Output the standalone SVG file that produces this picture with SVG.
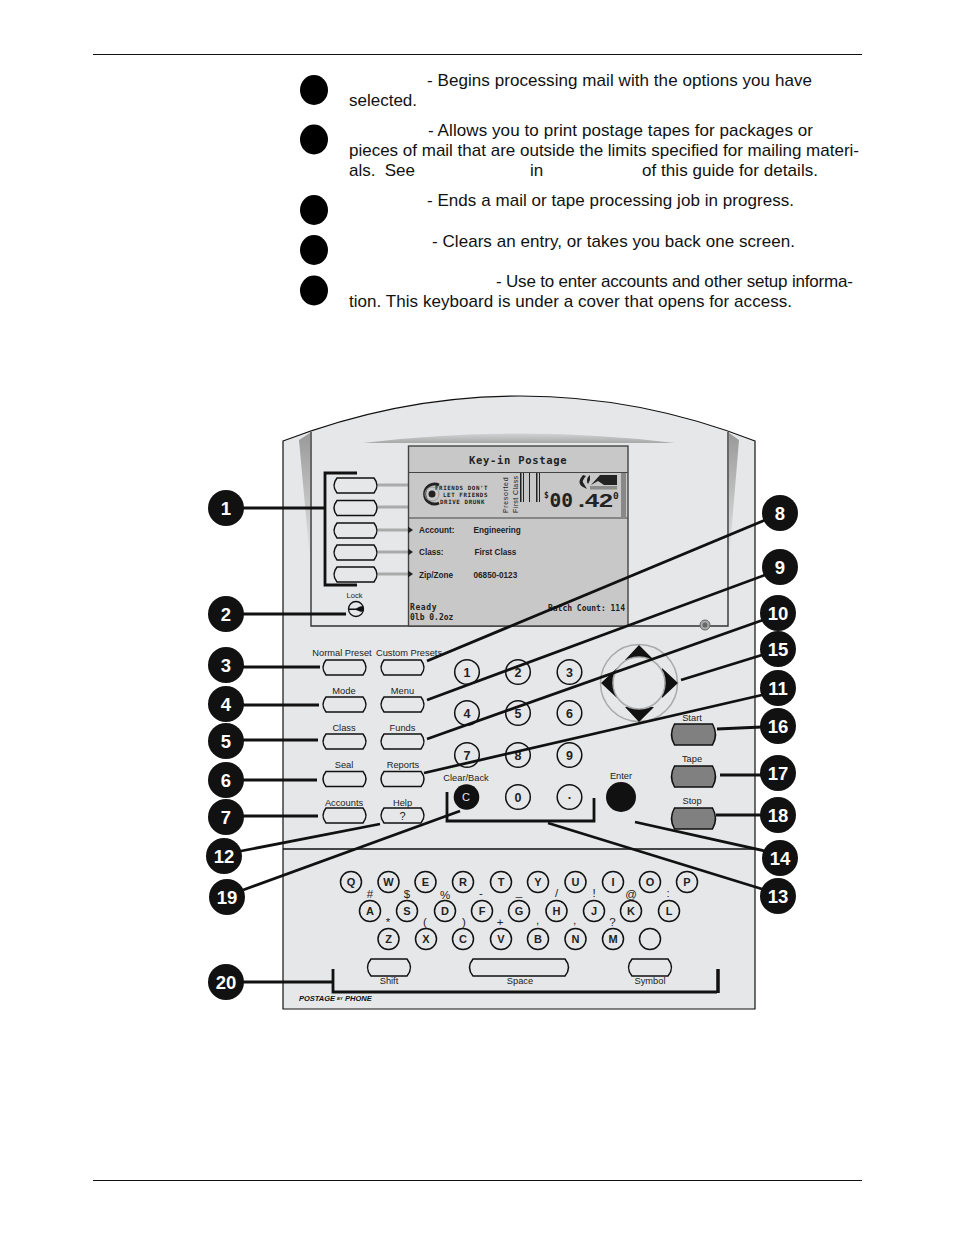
<svg xmlns="http://www.w3.org/2000/svg" xmlns:xlink="http://www.w3.org/1999/xlink" width="954" height="1235" viewBox="0 0 954 1235">
<style>
text{font-family:"Liberation Sans",Arial,sans-serif;fill:#111}
.b{font-size:17px}
.l{font-size:9.300px;text-anchor:middle;fill:#222}
.y{font-size:11.500px;text-anchor:middle;fill:#222}
.n text{font-size:18.500px;font-weight:bold;fill:#fff;text-anchor:middle}
.n circle{fill:#111}
.k{fill:#e6e7e8;stroke:#111;stroke-width:1.500}
.g{fill:#808080;stroke:#111;stroke-width:1.500}
.d{font-size:12.500px;font-weight:bold;text-anchor:middle;fill:#222}
.q{fill:#e6e7e8;stroke:#111;stroke-width:1.500}
.s{font-size:11px;font-weight:bold;text-anchor:middle;fill:#222}
.m{font-family:"DejaVu Sans Mono",monospace;font-weight:bold;fill:#222}
.f{font-size:8.200px;font-weight:bold;fill:#222}
.c line,.c path{stroke:#111;stroke-width:2.800;fill:none}
.h{stroke:#aaa;stroke-width:3}
</style>
<defs>
<path id="btn" d="M4,0H41Q47,7.500 41,15H4Q-2,7.500 4,0Z"/>
<path id="tbtn" d="M4,0H42Q48,10.500 42,21H4Q-2,10.500 4,0Z"/>
<circle id="key" r="12.300"/>
<circle id="qk" r="10.500"/>
<linearGradient id="w" x1="0" y1="0" x2="0" y2="1"><stop offset="0" stop-color="#999"/><stop offset="1" stop-color="#e6e7e8"/></linearGradient>
<linearGradient id="top" x1="0" y1="0" x2="0" y2="1"><stop offset="0" stop-color="#d2d3d4"/><stop offset="1" stop-color="#a8a8a8"/></linearGradient>
</defs>
<rect width="954" height="1235" fill="#fff"/>
<g id="rules" stroke="#111" stroke-width="1"><line x1="93" y1="54.500" x2="862" y2="54.500"/><line x1="93" y1="1180.500" x2="862" y2="1180.500"/></g>
<g id="description">
<g fill="#000"><ellipse cx="314" cy="90" rx="14" ry="15"/><ellipse cx="314" cy="139.500" rx="14" ry="15"/><ellipse cx="314" cy="210" rx="14" ry="15"/><ellipse cx="314" cy="250" rx="14" ry="15"/><ellipse cx="314" cy="290.500" rx="14" ry="15"/></g>
<text class="b" x="427" y="86" textLength="385">- Begins processing mail with the options you have</text>
<text class="b" x="349" y="106">selected.</text>
<text class="b" x="428" y="136" textLength="385">- Allows you to print postage tapes for packages or</text>
<text class="b" x="349" y="156" textLength="510">pieces of mail that are outside the limits specified for mailing materi-</text>
<text class="b" x="349" y="176" textLength="66" xml:space="preserve">als.  See</text>
<text class="b" x="530" y="176">in</text>
<text class="b" x="642" y="176" textLength="176">of this guide for details.</text>
<text class="b" x="427" y="206" textLength="367">- Ends a mail or tape processing job in progress.</text>
<text class="b" x="432" y="247" textLength="363">- Clears an entry, or takes you back one screen.</text>
<text class="b" x="496" y="287" textLength="357">- Use to enter accounts and other setup informa-</text>
<text class="b" x="349" y="307" textLength="443">tion. This keyboard is under a cover that opens for access.</text>
</g>
<g id="device">
<path d="M283,441Q400,396 520,396Q640,396 755,441V1009H283Z" fill="#e6e7e8" stroke="#111" stroke-width="1.200"/>
<path d="M311,432V626H728V432" fill="none" stroke="#333" stroke-width="1.400"/>
<path d="M299,440L310,433V560Z" fill="url(#w)"/>
<path d="M739,440L729,433V560Z" fill="url(#w)"/>
<path d="M363,443Q520,424 675,443Z" fill="url(#top)"/>
<line x1="283" y1="849" x2="755" y2="849" stroke="#111" stroke-width="1.600"/>
<circle cx="705" cy="625" r="5" fill="#aaa" stroke="#666"/><circle cx="705" cy="625" r="2.500" fill="#666"/>
</g>
<g id="softkeys">
<g class="h"><line x1="378" y1="485" x2="408" y2="485"/><line x1="378" y1="507" x2="408" y2="507"/><line x1="378" y1="530" x2="408" y2="530"/><line x1="378" y1="552" x2="408" y2="552"/><line x1="378" y1="574" x2="408" y2="574"/></g>
<use href="#btn" class="k" x="333" y="478"/><use href="#btn" class="k" x="333" y="500.500"/><use href="#btn" class="k" x="333" y="523"/><use href="#btn" class="k" x="333" y="545"/><use href="#btn" class="k" x="333" y="567"/>
</g>
<g id="screen">
<rect x="408.500" y="446" width="219.500" height="180" fill="#c8c8c8" stroke="#444" stroke-width="1.400"/>
<line x1="408" y1="472.500" x2="628" y2="472.500" stroke="#444"/>
<line x1="408" y1="518" x2="628" y2="518" stroke="#444"/>
<rect x="621" y="473" width="5" height="45" fill="#888"/>
<text class="m" x="469" y="464" font-size="10.500" letter-spacing=".7">Key-in Postage</text>
<path d="M439,485A10,10 0 1 0 439,503" fill="none" stroke="#222" stroke-width="3"/>
<circle cx="432" cy="494" r="7" fill="none" stroke="#999" stroke-width="1"/>
<circle cx="432" cy="494" r="3.500" fill="#222"/>
<text class="m" x="435" y="490" font-size="5.800" letter-spacing=".6">FRIENDS DON'T</text>
<text class="m" x="443" y="497" font-size="5.800" letter-spacing=".6">LET FRIENDS</text>
<text class="m" x="440" y="503.500" font-size="5.800" letter-spacing=".6">DRIVE DRUNK</text>
<text transform="translate(507.500,513) rotate(-90)" font-size="7" letter-spacing=".65" style="fill:#222">Presorted</text>
<text transform="translate(517.500,513) rotate(-90)" font-size="7" letter-spacing=".4" style="fill:#222">First Class</text>
<g fill="#222"><rect x="520" y="473" width="1.500" height="29"/><rect x="523" y="473" width="1" height="29"/><rect x="529" y="473" width="1" height="29"/><rect x="536" y="473" width="1.500" height="29"/><rect x="539" y="473" width="1" height="29"/></g>
<text class="m" x="544" y="498" font-size="8">$</text>
<text class="m" x="549.500" y="507" font-size="19.500">00</text>
<text x="578" y="507" font-size="19" font-weight="bold" textLength="35" lengthAdjust="spacingAndGlyphs" style="fill:#222">.42</text>
<text class="m" x="613" y="499" font-size="9.500">0</text>
<path d="M591,485L600,475H617V485H604L598,481Z" fill="#222"/>
<path d="M583,475Q576,483 583,487L587,489L584,484Q581,481 586,476ZM590,475Q585,479 588,484L590,480Z" fill="#222"/>
<rect x="590" y="486" width="27" height="3.500" fill="#8c8c8c"/>
<g fill="#222"><path d="M408,526.500L413,530L408,533.500Z"/><path d="M408,548.500L413,552L408,555.500Z"/><path d="M408,570.500L413,574L408,577.500Z"/></g>
<text class="f" x="419" y="533">Account:</text><text class="f" x="473.500" y="533">Engineering</text>
<text class="f" x="419" y="555">Class:</text><text class="f" x="474.500" y="555">First Class</text>
<text class="f" x="419" y="578">Zip/Zone</text><text class="f" x="473.500" y="578">06850-0123</text>
<text class="m" x="410" y="610" font-size="8" letter-spacing=".6">Ready</text>
<text class="m" x="410" y="619.500" font-size="8">0lb 0.2oz</text>
<text class="m" x="625" y="611" font-size="8" text-anchor="end">Batch Count: 114</text>
</g>
<g id="lock"><text class="l" x="354.500" y="598" style="font-size:7.500px">Lock</text><circle cx="356" cy="609" r="7.500" fill="#e6e7e8" stroke="#111" stroke-width="1.300"/><path d="M349,608.500H356L360,606.500A2.800,2.800 0 1 1 360,611.500L356,610H349Z" fill="#111"/></g>
<g id="function-keys">
<text class="l" x="342" y="656">Normal Preset</text><use href="#btn" class="k" x="322" y="660"/>
<text class="l" x="409" y="656">Custom Presets</text><use href="#btn" class="k" x="380" y="660"/>
<text class="l" x="344" y="694">Mode</text><use href="#btn" class="k" x="322" y="697"/>
<text class="l" x="402.500" y="694">Menu</text><use href="#btn" class="k" x="380" y="697"/>
<text class="l" x="344" y="731">Class</text><use href="#btn" class="k" x="322" y="734"/>
<text class="l" x="402.500" y="731">Funds</text><use href="#btn" class="k" x="380" y="734"/>
<text class="l" x="344" y="768">Seal</text><use href="#btn" class="k" x="322" y="771.500"/>
<text class="l" x="403" y="768">Reports</text><use href="#btn" class="k" x="380" y="771.500"/>
<text class="l" x="344" y="806">Accounts</text><use href="#btn" class="k" x="322" y="808"/>
<text class="l" x="402.500" y="806">Help</text><use href="#btn" class="k" x="380" y="808"/>
<text class="l" x="402.500" y="820" style="font-size:11px">?</text>
</g>
<g id="numeric-keys">
<g class="k"><use href="#key" x="467" y="672"/><use href="#key" x="518" y="672"/><use href="#key" x="569.500" y="672"/><use href="#key" x="467" y="713"/><use href="#key" x="518" y="713"/><use href="#key" x="569.500" y="713"/><use href="#key" x="467" y="755"/><use href="#key" x="518" y="755"/><use href="#key" x="569.500" y="755"/><use href="#key" x="518" y="797"/><use href="#key" x="569.500" y="797"/></g>
<g><text class="d" x="467" y="676.500">1</text><text class="d" x="518" y="676.500">2</text><text class="d" x="569.500" y="676.500">3</text><text class="d" x="467" y="717.500">4</text><text class="d" x="518" y="717.500">5</text><text class="d" x="569.500" y="717.500">6</text><text class="d" x="467" y="759.500">7</text><text class="d" x="518" y="759.500">8</text><text class="d" x="569.500" y="759.500">9</text><text class="d" x="518" y="801.500">0</text><text class="d" x="569.500" y="799">.</text></g>
<text class="l" x="466" y="781">Clear/Back</text>
<circle cx="466.500" cy="797" r="12.800" fill="#111"/><text x="466" y="801" font-size="11" text-anchor="middle" style="fill:#e6e7e8">C</text>
<text class="l" x="621" y="779">Enter</text><circle cx="621" cy="797" r="15" fill="#111"/>
</g>
<g id="dpad">
<circle cx="639" cy="683" r="38.500" fill="#e6e7e8" stroke="#aaa" stroke-width="1.500"/>
<path d="M639,645L654,660H625ZM639,722L625,707H654ZM601,683L617,668V698ZM678,683L662,668V698Z" fill="#111"/>
<circle cx="639" cy="683" r="26" fill="#e6e7e8" stroke="#aaa" stroke-width="1.500"/>
</g>
<g id="action-keys">
<text class="l" x="692" y="721">Start</text><use href="#tbtn" class="g" x="670.500" y="724"/>
<text class="l" x="692" y="762">Tape</text><use href="#tbtn" class="g" x="670.500" y="766"/>
<text class="l" x="692" y="804">Stop</text><use href="#tbtn" class="g" x="670.500" y="808"/>
</g>
<g id="keyboard">
<g class="q"><use href="#qk" x="351" y="882"/><use href="#qk" x="388.500" y="882"/><use href="#qk" x="425.500" y="882"/><use href="#qk" x="463" y="882"/><use href="#qk" x="501" y="882"/><use href="#qk" x="538" y="882"/><use href="#qk" x="575.500" y="882"/><use href="#qk" x="613" y="882"/><use href="#qk" x="650" y="882"/><use href="#qk" x="687" y="882"/>
<use href="#qk" x="370" y="911"/><use href="#qk" x="407" y="911"/><use href="#qk" x="445" y="911"/><use href="#qk" x="482" y="911"/><use href="#qk" x="519" y="911"/><use href="#qk" x="556.500" y="911"/><use href="#qk" x="594" y="911"/><use href="#qk" x="631" y="911"/><use href="#qk" x="669" y="911"/>
<use href="#qk" x="388.500" y="939"/><use href="#qk" x="426" y="939"/><use href="#qk" x="463" y="939"/><use href="#qk" x="501" y="939"/><use href="#qk" x="538" y="939"/><use href="#qk" x="575.500" y="939"/><use href="#qk" x="613" y="939"/><use href="#qk" x="650" y="939"/></g>
<g><text class="s" x="351" y="886">Q</text><text class="s" x="388.500" y="886">W</text><text class="s" x="425.500" y="886">E</text><text class="s" x="463" y="886">R</text><text class="s" x="501" y="886">T</text><text class="s" x="538" y="886">Y</text><text class="s" x="575.500" y="886">U</text><text class="s" x="613" y="886">I</text><text class="s" x="650" y="886">O</text><text class="s" x="687" y="886">P</text>
<text class="s" x="370" y="915">A</text><text class="s" x="407" y="915">S</text><text class="s" x="445" y="915">D</text><text class="s" x="482" y="915">F</text><text class="s" x="519" y="915">G</text><text class="s" x="556.500" y="915">H</text><text class="s" x="594" y="915">J</text><text class="s" x="631" y="915">K</text><text class="s" x="669" y="915">L</text>
<text class="s" x="388.500" y="943">Z</text><text class="s" x="426" y="943">X</text><text class="s" x="463" y="943">C</text><text class="s" x="501" y="943">V</text><text class="s" x="538" y="943">B</text><text class="s" x="575.500" y="943">N</text><text class="s" x="613" y="943">M</text></g>
<g><text class="y" x="370" y="898">#</text><text class="y" x="407" y="898">$</text><text class="y" x="445" y="899">%</text><text class="y" x="481" y="897">-</text><text class="y" x="519" y="896">_</text><text class="y" x="556.500" y="897">/</text><text class="y" x="594" y="897">!</text><text class="y" x="631" y="898">@</text><text class="y" x="668" y="897">:</text>
<text class="y" x="388" y="926">*</text><text class="y" x="425" y="926">(</text><text class="y" x="464" y="926">)</text><text class="y" x="500" y="926">+</text><text class="y" x="537.500" y="924">,</text><text class="y" x="574.500" y="924">,</text><text class="y" x="612.500" y="926">?</text></g>
<path class="k" d="M371,959H407Q414,967.500 407,976H371Q364,967.500 371,959Z"/>
<path class="k" d="M473,959H565Q572,967.500 565,976H473Q466,967.500 473,959Z"/>
<path class="k" d="M632,959H668Q675,967.500 668,976H632Q625,967.500 632,959Z"/>
<text class="l" x="389" y="984">Shift</text><text class="l" x="520" y="984">Space</text><text class="l" x="650" y="984">Symbol</text>
<text x="299" y="1001" font-size="7.500" font-weight="bold" font-style="italic">POSTAGE</text><text x="337" y="1000" font-size="4" font-weight="bold" font-style="italic">BY</text><text x="345" y="1001" font-size="7.500" font-weight="bold" font-style="italic">PHONE</text>
</g>
<g id="connectors" class="c">
<path d="M357,473H325V585H357"/>
<path d="M447,792V821H594V798"/>
<path d="M333,969V992H717"/><line x1="718" y1="969" x2="718" y2="993" style="stroke-width:3.500"/>
<line x1="243" y1="508" x2="325" y2="508"/>
<line x1="243" y1="614" x2="346" y2="614"/>
<line x1="243" y1="667" x2="320" y2="667"/>
<line x1="243" y1="705" x2="319" y2="705"/>
<line x1="243" y1="740" x2="318" y2="740"/>
<line x1="243" y1="780" x2="317" y2="780"/>
<line x1="243" y1="816" x2="318" y2="816"/>
<line x1="241" y1="851" x2="380" y2="824"/>
<line x1="243" y1="890" x2="460" y2="811"/>
<line x1="243" y1="982" x2="333" y2="982"/>
<line x1="427" y1="661" x2="765" y2="520"/>
<line x1="427" y1="700" x2="765" y2="575"/>
<line x1="427" y1="739" x2="763" y2="620"/>
<line x1="681" y1="680" x2="762" y2="655"/>
<line x1="424" y1="773" x2="762" y2="695"/>
<line x1="717" y1="729" x2="762" y2="727"/>
<line x1="720" y1="775" x2="762" y2="775"/>
<line x1="716" y1="815" x2="762" y2="815"/>
<line x1="635" y1="822" x2="765" y2="851"/>
<line x1="548" y1="823" x2="762" y2="889"/>
</g>
<g id="n1" class="n"><circle cx="226" cy="508" r="18"/><text x="226" y="514.500">1</text></g>
<g id="n2" class="n"><circle cx="226" cy="614" r="18"/><text x="226" y="620.500">2</text></g>
<g id="n3" class="n"><circle cx="226" cy="665" r="18"/><text x="226" y="671.500">3</text></g>
<g id="n4" class="n"><circle cx="226" cy="704" r="18"/><text x="226" y="710.500">4</text></g>
<g id="n5" class="n"><circle cx="226" cy="741" r="18"/><text x="226" y="747.500">5</text></g>
<g id="n6" class="n"><circle cx="226" cy="780" r="18"/><text x="226" y="786.500">6</text></g>
<g id="n7" class="n"><circle cx="226" cy="817" r="18"/><text x="226" y="823.500">7</text></g>
<g id="n8" class="n"><circle cx="780" cy="513" r="18"/><text x="780" y="519.500">8</text></g>
<g id="n9" class="n"><circle cx="780" cy="567" r="18"/><text x="780" y="573.500">9</text></g>
<g id="n10" class="n"><circle cx="778" cy="613" r="18"/><text x="778" y="619.500">10</text></g>
<g id="n11" class="n"><circle cx="778" cy="688" r="18"/><text x="778" y="694.500">11</text></g>
<g id="n12" class="n"><circle cx="224" cy="856" r="18"/><text x="224" y="862.500">12</text></g>
<g id="n13" class="n"><circle cx="778" cy="896" r="18"/><text x="778" y="902.500">13</text></g>
<g id="n14" class="n"><circle cx="780" cy="858" r="18"/><text x="780" y="864.500">14</text></g>
<g id="n15" class="n"><circle cx="778" cy="649" r="18"/><text x="778" y="655.500">15</text></g>
<g id="n16" class="n"><circle cx="778" cy="726" r="18"/><text x="778" y="732.500">16</text></g>
<g id="n17" class="n"><circle cx="778" cy="773" r="18"/><text x="778" y="779.500">17</text></g>
<g id="n18" class="n"><circle cx="778" cy="815" r="18"/><text x="778" y="821.500">18</text></g>
<g id="n19" class="n"><circle cx="227" cy="897" r="18"/><text x="227" y="903.500">19</text></g>
<g id="n20" class="n"><circle cx="226" cy="982" r="18"/><text x="226" y="988.500">20</text></g>
</svg>
